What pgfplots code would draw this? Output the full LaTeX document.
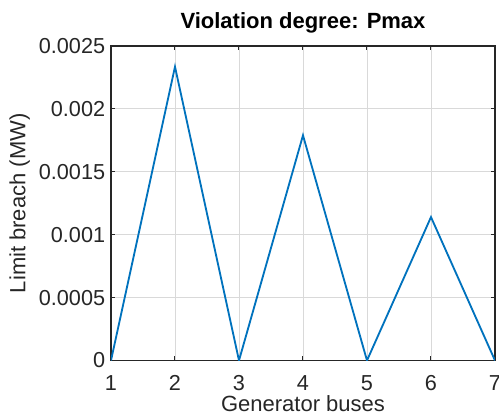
\documentclass[border=0pt]{standalone}
\usepackage{pgfplots}
\pgfplotsset{compat=1.18}
\usepackage{fontspec}
\setmainfont{Liberation Sans}
\definecolor{mblue}{RGB}{0,114,189}
\definecolor{maxis}{RGB}{38,38,38}
\begin{document}
\begin{tikzpicture}
\useasboundingbox (-66.6pt,-35.1pt) rectangle (232.8pt,216.3pt);
\begin{axis}[
  at={(0,0)}, anchor=south west,
  scale only axis,
  width=230.4pt, height=188.7pt,
  xmin=1, xmax=7, ymin=0, ymax=0.0025,
  xtick={1,2,3,4,5,6,7},
  ytick={0,0.0005,0.001,0.0015,0.002,0.0025},
  yticklabels={0,0.0005,0.001,0.0015,0.002,0.0025},
  /pgf/number format/assume math mode=true,
  scaled y ticks=false,
  tick align=inside,
  tick pos=both,
  major tick length=2.6pt,
  axis line style={maxis, line width=0.7pt},
  every tick/.style={maxis, line width=0.6pt},
  grid=major,
  major grid style={gray!30, line width=0.5pt},
  tick label style={font=\fontsize{13}{15}\selectfont, text=maxis},
  xticklabel style={yshift=-5.5pt},
  yticklabel style={xshift=0pt},
  xlabel={Generator buses},
  ylabel={Limit breach (MW)},
  label style={font=\fontsize{13.2}{15}\selectfont, text=maxis},
  xlabel style={yshift=4pt},
  ylabel style={yshift=-1.5pt},
  title={\textbf{Violation degree: Pmax}},
  title style={font=\fontsize{13.2}{15}\selectfont, yshift=-2pt},
]
\addplot[mblue, line width=1.1pt] coordinates {
(1,0) (2,0.002335) (3,0) (4,0.00179) (5,0) (6,0.00114) (7,0)
};
\end{axis}
\end{tikzpicture}
\end{document}
